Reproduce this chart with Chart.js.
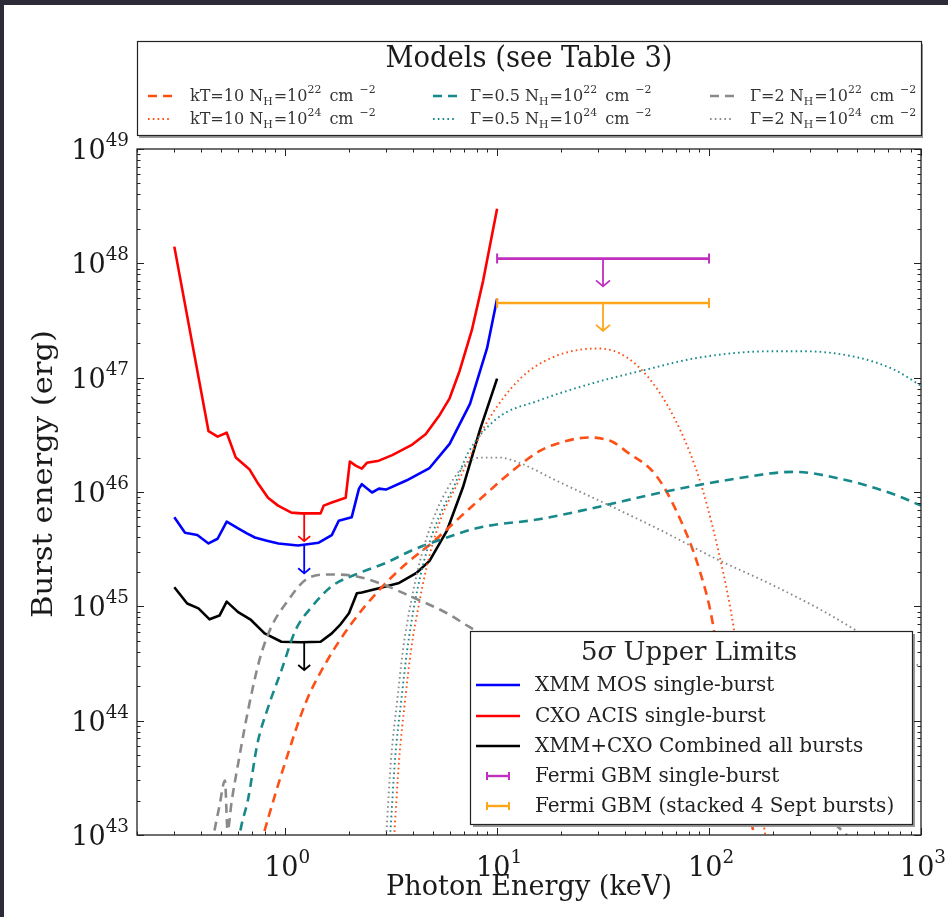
<!DOCTYPE html>
<html>
<head>
<meta charset="utf-8">
<script src="https://cdn.jsdelivr.net/npm/chart.js@4.4.1/dist/chart.umd.min.js"></script>
<style>
  html, body { margin: 0; padding: 0; background: #2d2b38; }
  canvas { display: block; }
</style>
</head>
<body>
<canvas id="c" width="948" height="917"></canvas>
<script>
// ---- 5 sigma upper limits (photon energy keV -> burst energy erg) ----
const xmmE   = [0.3, 0.337, 0.385, 0.435, 0.48, 0.53, 0.6, 0.66, 0.72, 0.82, 0.93, 1.15, 1.44, 1.66, 1.79, 2.06, 2.23, 2.3, 2.57, 2.77, 2.99, 3.73, 4.8, 5.97, 7.45, 8.96, 10];
const xmmLim = [6.0e45, 4.4e45, 4.2e45, 3.55e45, 3.9e45, 5.5e45, 4.8e45, 4.35e45, 4.0e45, 3.75e45, 3.55e45, 3.4e45, 3.6e45, 4.2e45, 5.6e45, 6.0e45, 1.07e46, 1.17e46, 9.9e45, 1.07e46, 1.05e46, 1.26e46, 1.62e46, 2.64e46, 5.9e46, 1.8e47, 4.9e47];

const acisE   = [0.3, 0.435, 0.48, 0.53, 0.585, 0.68, 0.744, 0.83, 0.926, 1.07, 1.19, 1.47, 1.52, 1.66, 1.93, 2.02, 2.15, 2.3, 2.43, 2.77, 3.2, 3.98, 4.6, 5.35, 5.97, 6.66, 7.6, 8.6, 10];
const acisLim = [1.4e48, 3.4e46, 3.05e46, 3.3e46, 2.0e46, 1.57e46, 1.19e46, 8.9e45, 7.6e45, 6.6e45, 6.5e45, 6.5e45, 7.6e45, 8.1e45, 8.9e45, 1.85e46, 1.7e46, 1.6e46, 1.8e46, 1.88e46, 2.1e46, 2.6e46, 3.2e46, 4.7e46, 6.6e46, 1.15e47, 2.6e47, 7.1e47, 3.0e48];

const combE   = [0.3, 0.345, 0.39, 0.44, 0.49, 0.53, 0.6, 0.69, 0.8, 0.96, 1.19, 1.47, 1.66, 1.83, 2.0, 2.18, 2.3, 2.77, 3.45, 4.15, 4.8, 5.8, 6.9, 8.3, 10];
const combLim = [1.47e45, 1.06e45, 9.6e44, 7.7e44, 8.3e44, 1.1e45, 8.9e44, 7.6e44, 5.8e44, 4.9e44, 4.85e44, 4.9e44, 5.8e44, 7.0e44, 8.7e44, 1.3e45, 1.32e45, 1.44e45, 1.6e45, 1.95e45, 2.5e45, 4.6e45, 1.1e46, 3.5e46, 9.8e46];

// upper-limit arrows drawn at the sensitivity minimum
const ulEnergy = 1.23;
const ulAcis = 6.5e45, ulXmm = 3.4e45, ulComb = 4.85e44;

// Fermi GBM band limits
const gbmBand = [10, 100];
const gbmSingle = 1.1e48;
const gbmStacked = 4.5e47;
const gbmArrowE = 31.6;

// ---- model burst energies ----
const kt22E = [0.74, 0.79, 0.88, 1.0, 1.245, 1.55, 2.06, 2.77, 3.73, 4.96, 6.67, 8.96, 11.9, 16, 19, 27, 35, 41, 56, 71, 90, 104, 117, 136, 163, 170];
const kt22  = [6e42, 1.0e43, 2.0e43, 4.3e43, 1.41e44, 3.16e44, 7.1e44, 1.38e45, 2.37e45, 3.63e45, 6.0e45, 9.8e45, 1.55e46, 2.3e46, 2.63e46, 3.0e46, 2.75e46, 2.24e46, 1.41e46, 6.5e45, 2.1e45, 7.2e44, 1.5e44, 3.7e43, 1.0e43, 6e42];

const kt24E = [3.2, 3.27, 3.45, 3.68, 3.93, 4.3, 4.8, 5.5, 6.45, 7.5, 8.9, 13, 19, 30, 41, 56, 73, 90, 108, 127, 143, 163, 184, 190];
const kt24  = [6e42, 1.0e43, 4.6e43, 1.5e44, 4.2e44, 1.1e45, 2.8e45, 6.2e45, 1.15e46, 2.1e46, 4.0e46, 1.0e47, 1.55e47, 1.8e47, 1.5e47, 8.3e46, 3.5e46, 1.3e46, 3.7e45, 8.9e44, 2.2e44, 4.6e43, 1.0e43, 6e42];

const g05n22E = [0.59, 0.61, 0.67, 0.74, 0.83, 0.96, 1.12, 1.33, 1.66, 2.23, 2.99, 3.98, 5.8, 8.3, 16, 28, 61, 131, 250, 420, 750, 1000];
const g05n22  = [6e42, 1.0e43, 2.1e43, 6.3e43, 1.3e44, 2.75e44, 6.2e44, 9.8e44, 1.5e45, 1.95e45, 2.4e45, 3.1e45, 4.0e45, 4.9e45, 5.8e45, 7.2e45, 1.0e46, 1.3e46, 1.5e46, 1.3e46, 9.5e45, 7.6e45];

const g05n24E = [3.07, 3.13, 3.3, 3.53, 3.77, 4.1, 4.6, 5.35, 6.3, 7.3, 10, 15.7, 28, 50, 90, 193, 283, 505, 750, 1000];
const g05n24  = [6e42, 1.0e43, 4.6e43, 1.5e44, 4.2e44, 1.1e45, 2.8e45, 6.2e45, 1.15e46, 2.2e46, 4.4e46, 6.3e46, 8.9e46, 1.17e47, 1.5e47, 1.7e47, 1.7e47, 1.5e47, 1.17e47, 8.5e46];

const g2n22E = [0.44, 0.46, 0.49, 0.52, 0.535, 0.56, 0.6, 0.67, 0.76, 0.86, 1.03, 1.245, 1.6, 2.06, 2.77, 4.0, 5.8, 7.4, 20, 50, 100, 200, 445, 480];
const g2n22  = [6e42, 1.0e43, 1.8e43, 3.0e43, 1.1e43, 2.0e43, 4.2e43, 1.26e44, 3.5e44, 6.6e44, 1.12e45, 1.7e45, 1.9e45, 1.86e45, 1.6e45, 1.2e45, 8.7e44, 6.6e44, 2.45e44, 9.8e43, 4.9e43, 2.3e43, 1.0e43, 8e42];

const g2n24E = [2.95, 3.0, 3.16, 3.38, 3.6, 3.93, 4.4, 5.07, 5.84, 6.9, 8.3, 10.3, 12.9, 19, 34, 61, 108, 193, 345, 620, 1000];
const g2n24  = [6e42, 1.0e43, 4.6e43, 1.5e44, 4.2e44, 1.1e45, 2.8e45, 6.2e45, 1.07e46, 1.66e46, 2.0e46, 2.0e46, 1.78e46, 1.26e46, 7.6e45, 4.5e45, 2.6e45, 1.58e45, 9.1e44, 4.8e44, 2.95e44];

// axis tick decades
const xDecades = [0, 1, 2, 3];
const yDecades = [43, 44, 45, 46, 47, 48, 49];

const C_KT = '#ff4f14', C_G05 = '#17898a', C_G2 = '#8a8a8a';
const C_MAG = '#bf30bf', C_ORA = '#ffa51a';

const pts = (xs, ys) => xs.map((x, i) => ({ x: x, y: ys[i] }));
const DASH = [9, 6], DOT = [1.6, 3.2];

function model(xs, ys, color, dotted) {
  return {
    data: pts(xs, ys), borderColor: color,
    borderWidth: dotted ? 1.9 : 2.6,
    borderDash: dotted ? DOT : DASH,
    cubicInterpolationMode: 'monotone'
  };
}

const datasets = [
  model(g2n22E, g2n22, C_G2, false),
  model(g2n24E, g2n24, C_G2, true),
  model(g05n22E, g05n22, C_G05, false),
  model(g05n24E, g05n24, C_G05, true),
  model(kt22E, kt22, C_KT, false),
  model(kt24E, kt24, C_KT, true),
  { data: pts(acisE, acisLim), borderColor: '#ff0000', borderWidth: 2.6 },
  { data: pts(xmmE, xmmLim), borderColor: '#0000ff', borderWidth: 2.6 },
  { data: pts(combE, combLim), borderColor: '#000000', borderWidth: 2.6 },
  { data: pts(gbmBand, [gbmSingle, gbmSingle]), borderColor: C_MAG, borderWidth: 2.6 },
  { data: pts(gbmBand, [gbmStacked, gbmStacked]), borderColor: C_ORA, borderWidth: 2.6 }
];

const SERIF = '"DejaVu Serif", serif';
const COND = '"DejaVu Serif Condensed", "DejaVu Serif", serif';

// text made of normal / subscript / superscript pieces
function rich(ctx, x, y, parts, size, align, family) {
  family = family || SERIF;
  const pieces = [];
  let w = 0;
  for (const p of parts) {
    const t = p[0], k = p[1] || 'n';
    const s = k === 'n' ? size : size * 0.68;
    ctx.font = s + 'px ' + family;
    const mw = ctx.measureText(t).width + (p[2] || 0);
    pieces.push([t, k, s, mw]);
    w += mw;
  }
  let cx = align === 'center' ? x - w / 2 : align === 'right' ? x - w : x;
  ctx.textAlign = 'left';
  ctx.textBaseline = 'alphabetic';
  for (const [t, k, s, mw] of pieces) {
    ctx.font = s + 'px ' + family;
    const dy = k === 'sup' ? -size * 0.48 : k === 'sub' ? size * 0.22 : 0;
    ctx.fillText(t, cx, y + dy);
    cx += mw;
  }
}

// single line of text stretched to a given length
function fitText(ctx, text, cx, cy, size, family, length, angle) {
  ctx.save();
  ctx.font = size + 'px ' + family;
  ctx.textAlign = 'center';
  ctx.textBaseline = 'middle';
  const w = ctx.measureText(text).width;
  ctx.translate(cx, cy);
  if (angle) ctx.rotate(angle);
  ctx.scale(length / w, 1);
  ctx.fillText(text, 0, 0);
  ctx.restore();
}

function arrowDown(ctx, x, y0, y1, color, head, lw) {
  ctx.save();
  ctx.strokeStyle = color;
  ctx.lineWidth = lw;
  ctx.beginPath();
  ctx.moveTo(x, y0); ctx.lineTo(x, y1);
  ctx.moveTo(x - head, y1 - head * 0.85); ctx.lineTo(x, y1); ctx.lineTo(x + head, y1 - head * 0.85);
  ctx.stroke();
  ctx.restore();
}

function sample(ctx, x0, x1, y, color, lw, dash) {
  ctx.save();
  ctx.strokeStyle = color; ctx.lineWidth = lw; ctx.setLineDash(dash || []);
  ctx.beginPath(); ctx.moveTo(x0, y); ctx.lineTo(x1, y); ctx.stroke();
  ctx.restore();
}

const background = {
  id: 'background',
  beforeDraw(chart) {
    const ctx = chart.ctx;
    ctx.save();
    ctx.fillStyle = '#2d2b38';
    ctx.fillRect(0, 0, chart.width, chart.height);
    ctx.fillStyle = '#ffffff';
    ctx.fillRect(4, 5, chart.width - 4, chart.height - 5);
    ctx.restore();
  }
};

const overlay = {
  id: 'overlay',
  afterDatasetsDraw(chart) {
    const ctx = chart.ctx, xs = chart.scales.x, ys = chart.scales.y, a = chart.chartArea;
    const ulFactor = 1.75;

    // upper-limit arrows on the X-ray curves
    const ax = xs.getPixelForValue(ulEnergy);
    [[ulAcis, '#ff0000'], [ulXmm, '#0000ff'], [ulComb, '#000000']].forEach(([v, c]) => {
      arrowDown(ctx, ax, ys.getPixelForValue(v), ys.getPixelForValue(v / ulFactor), c, 6, 1.8);
    });

    // Fermi GBM caps and arrows
    [[gbmSingle, C_MAG], [gbmStacked, C_ORA]].forEach(([v, c]) => {
      const py = ys.getPixelForValue(v);
      ctx.save();
      ctx.strokeStyle = c; ctx.lineWidth = 2;
      ctx.beginPath();
      gbmBand.forEach(e => { const px = xs.getPixelForValue(e); ctx.moveTo(px, py - 5); ctx.lineTo(px, py + 5); });
      ctx.stroke();
      ctx.restore();
      arrowDown(ctx, xs.getPixelForValue(gbmArrowE), py, ys.getPixelForValue(v / ulFactor), c, 7, 1.8);
    });

    // lower legend (upper limits)
    const lx = 470, ly = 631, lw = 442, lh = 193;
    ctx.save();
    ctx.fillStyle = '#9a9a9a';
    ctx.fillRect(lx + 3, ly + 3, lw, lh);
    ctx.fillStyle = '#ffffff';
    ctx.fillRect(lx, ly, lw, lh);
    ctx.strokeStyle = '#222222'; ctx.lineWidth = 1.2;
    ctx.strokeRect(lx + 0.5, ly + 0.5, lw, lh);

    ctx.fillStyle = '#222222';
    ctx.textBaseline = 'alphabetic';
    ctx.textAlign = 'left';
    const t1 = '5', t2 = 'σ', t3 = ' Upper Limits';
    ctx.font = '26px ' + SERIF;
    const w1 = ctx.measureText(t1).width, w3 = ctx.measureText(t3).width;
    ctx.font = 'italic 26px ' + SERIF;
    const w2 = ctx.measureText(t2).width;
    let tx = 689 - (w1 + w2 + w3) / 2;
    ctx.font = '26px ' + SERIF; ctx.fillText(t1, tx, 660); tx += w1;
    ctx.font = 'italic 26px ' + SERIF; ctx.fillText(t2, tx, 660); tx += w2;
    ctx.font = '26px ' + SERIF; ctx.fillText(t3, tx, 660);

    const rows = [
      ['#0000ff', 'XMM MOS single-burst', 685, 'line'],
      ['#ff0000', 'CXO ACIS single-burst', 716, 'line'],
      ['#000000', 'XMM+CXO Combined all bursts', 746, 'line'],
      [C_MAG, 'Fermi GBM single-burst', 776, 'bar'],
      [C_ORA, 'Fermi GBM (stacked 4 Sept bursts)', 806, 'bar']
    ];
    rows.forEach(([c, label, y, kind]) => {
      if (kind === 'line') {
        sample(ctx, 476, 520, y, c, 2.6);
      } else {
        sample(ctx, 487, 509, y, c, 2.4);
        ctx.strokeStyle = c; ctx.lineWidth = 2;
        ctx.beginPath(); ctx.moveTo(487, y - 4); ctx.lineTo(487, y + 4); ctx.moveTo(509, y - 4); ctx.lineTo(509, y + 4); ctx.stroke();
      }
      ctx.fillStyle = '#222222';
      ctx.font = '20px ' + SERIF;
      ctx.textBaseline = 'middle';
      ctx.fillText(label, 535, y + 1);
    });
    ctx.restore();

    // axes frame and inward ticks
    ctx.save();
    ctx.strokeStyle = '#222222'; ctx.lineWidth = 1.3;
    ctx.strokeRect(a.left, a.top, a.right - a.left, a.bottom - a.top);
    ctx.lineWidth = 1;
    ctx.beginPath();
    for (let d = -1; d <= 3; d++) {
      for (let m = 1; m <= 9; m++) {
        const v = m * Math.pow(10, d);
        if (v < xs.min * 0.999 || v > xs.max * 1.001) continue;
        const px = Math.round(xs.getPixelForValue(v)) + 0.5;
        const L = m === 1 ? 7 : 3.5;
        ctx.moveTo(px, a.bottom); ctx.lineTo(px, a.bottom - L);
        ctx.moveTo(px, a.top); ctx.lineTo(px, a.top + L);
      }
    }
    for (let d = 43; d <= 49; d++) {
      for (let m = 1; m <= 9; m++) {
        const v = m * Math.pow(10, d);
        if (v > ys.max * 1.001) continue;
        const py = Math.round(ys.getPixelForValue(v)) + 0.5;
        const L = m === 1 ? 7 : 3.5;
        ctx.moveTo(a.left, py); ctx.lineTo(a.left + L, py);
        ctx.moveTo(a.right, py); ctx.lineTo(a.right - L, py);
      }
    }
    ctx.stroke();
    ctx.restore();
  },
  afterDraw(chart) {
    const ctx = chart.ctx, xs = chart.scales.x, ys = chart.scales.y;
    ctx.save();
    ctx.fillStyle = '#1a1a1a';
    // tick labels
    yDecades.forEach(d => {
      rich(ctx, 129, ys.getPixelForValue(Math.pow(10, d)) + 10, [['10', 'n'], [String(d), 'sup']], 27, 'right');
    });
    xDecades.forEach(d => {
      rich(ctx, xs.getPixelForValue(Math.pow(10, d)) + 2, 876, [['10', 'n'], [String(d), 'sup']], 27, 'center');
    });
    // axis titles
    fitText(ctx, 'Photon Energy (keV)', 529, 888, 28, COND, 286, 0);
    fitText(ctx, 'Burst energy (erg)', 45, 474, 28, COND, 288, -Math.PI / 2);

    // upper legend (models)
    const bx = 137, by = 41, bw = 784, bh = 94;
    ctx.fillStyle = '#9a9a9a';
    ctx.fillRect(bx + 2, by + 3, bw, bh);
    ctx.fillStyle = '#ffffff';
    ctx.fillRect(bx, by, bw, bh);
    ctx.strokeStyle = '#222222'; ctx.lineWidth = 1.2;
    ctx.strokeRect(bx + 0.5, by + 0.5, bw, bh);
    ctx.fillStyle = '#1a1a1a';
    fitText(ctx, 'Models (see Table 3)', 529, 59, 29, COND, 287, 0);

    const cols = [[148, 190, 'kT=10', C_KT], [433, 470, 'Γ=0.5', C_G05], [710, 750, 'Γ=2', C_G2]];
    const rowsY = [[96, '22', false], [119, '24', true]];
    cols.forEach(([sx, tx, lead, c]) => {
      rowsY.forEach(([y, nh, dotted]) => {
        sample(ctx, sx, sx + 24, y, c, dotted ? 2 : 2.6, dotted ? DOT : DASH);
        ctx.fillStyle = '#333333';
        rich(ctx, tx, y + 5, [[lead + ' N', 'n'], ['H', 'sub', 1], ['=10', 'n'], [nh, 'sup', 3], [' cm', 'n', 6], ['−2', 'sup']], 16, 'left');
      });
    });
    ctx.restore();
  }
};

new Chart(document.getElementById('c').getContext('2d'), {
  type: 'line',
  data: { datasets: datasets },
  options: {
    responsive: false,
    animation: false,
    devicePixelRatio: 1,
    layout: { padding: { left: 137, top: 149, right: 27, bottom: 82 } },
    plugins: { legend: { display: false }, tooltip: { enabled: false } },
    elements: { point: { radius: 0 }, line: { tension: 0, borderJoinStyle: 'round', fill: false } },
    scales: {
      x: { type: 'logarithmic', min: 0.2, max: 1000, display: false },
      y: { type: 'logarithmic', min: 1e43, max: 1e49, display: false }
    }
  },
  plugins: [background, overlay]
});
</script>
</body>
</html>
